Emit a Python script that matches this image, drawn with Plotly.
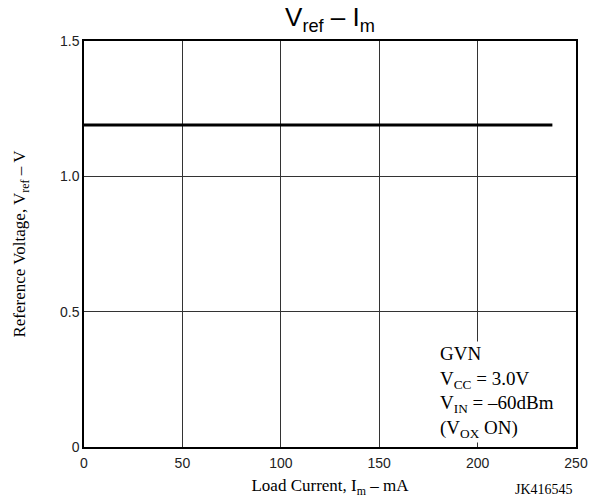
import plotly.graph_objects as go

load_current_ma = [0, 238]
vref_v = [1.19, 1.19]
x_ticks = [0, 50, 100, 150, 200, 250]
x_tick_labels = ["0", "50", "100", "150", "200", "250"]
y_ticks = [0, 0.5, 1.0, 1.5]
y_tick_labels = ["0", "0.5", "1.0", "1.5"]

fig = go.Figure()
fig.add_trace(go.Scatter(x=load_current_ma, y=vref_v, mode="lines",
                         line=dict(color="black", width=3), showlegend=False))

fig.update_layout(
    width=590, height=491,
    margin=dict(l=76, r=22, t=33, b=52, autoexpand=False),
    paper_bgcolor="white", plot_bgcolor="white",
    title=dict(text="V<sub>ref</sub> – I<sub>m</sub>", x=0.5, xref="paper", xanchor="center",
               y=0.981, yanchor="middle",
               font=dict(family="Liberation Sans, Arial", size=26, color="black")),
    xaxis=dict(range=[0, 250], tickvals=x_ticks, ticktext=x_tick_labels,
               showgrid=True, gridcolor="#333", gridwidth=1,
               showline=True, linecolor="black", linewidth=1.5, mirror=True,
               ticks="", zeroline=False, ticklabelstandoff=2, automargin=False,
               tickfont=dict(family="Liberation Sans, Arial", size=14, color="#222"),
               title=dict(text="Load Current, I<sub>m</sub> – mA", standoff=10,
                          font=dict(family="Liberation Serif, Times New Roman", size=17, color="black"))),
    yaxis=dict(range=[0, 1.5], tickvals=y_ticks, ticktext=y_tick_labels,
               showgrid=True, gridcolor="#333", gridwidth=1,
               showline=True, linecolor="black", linewidth=1.5, mirror=True,
               ticks="", zeroline=False, automargin=False,
               tickfont=dict(family="Liberation Sans, Arial", size=14, color="#222"),
               title=dict(text="Reference Voltage, V<sub>ref</sub> – V", standoff=30,
                          font=dict(family="Liberation Serif, Times New Roman", size=17, color="black"))),
)

fig.add_annotation(
    xref="paper", yref="paper", x=0.72, y=0.262, xanchor="left", yanchor="top",
    align="left", showarrow=False, bgcolor="white",
    text="GVN<br>V<sub>CC</sub> = 3.0V<br>V<sub>IN</sub> = –60dBm<br>(V<sub>OX</sub> ON)",
    font=dict(family="Liberation Serif, Times New Roman", size=19, color="black"),
)
fig.add_annotation(
    xref="paper", yref="paper", x=0.998, y=-0.104, xanchor="right", yanchor="middle",
    showarrow=False, text="JK416545",
    font=dict(family="Liberation Serif, Times New Roman", size=14, color="black"),
)

fig.write_html("out.html")
